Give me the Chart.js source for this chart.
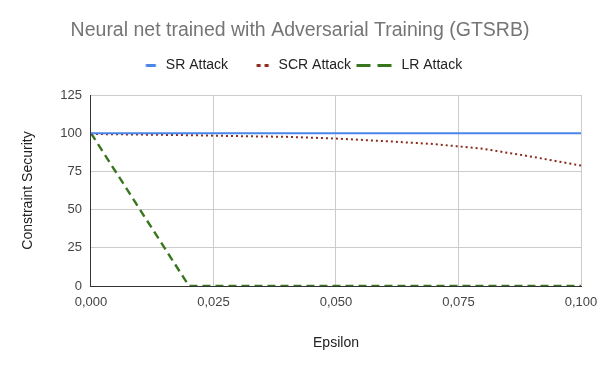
<!DOCTYPE html>
<html>
<head>
<meta charset="utf-8">
<script src="https://cdn.jsdelivr.net/npm/chart.js@4"></script>
<style>
  html, body { margin: 0; padding: 0; background: #fff; }
  #wrap { width: 600px; height: 371px; }
</style>
</head>
<body>
<div id="wrap"><canvas id="chart"></canvas></div>
<script>
// Data
const epsilon = [0, 0.01, 0.02, 0.03, 0.04, 0.05, 0.06, 0.07, 0.08, 0.09, 0.1];
const srAttack = [100, 100, 100, 100, 100, 100, 100, 100, 100, 100, 100];
const scrAttack = [99.5, 99.1, 98.7, 98.1, 97.6, 96.5, 94.8, 92.9, 89.8, 84.6, 78.8];
const lrAttack = [100, 50, 0, 0, 0, 0, 0, 0, 0, 0, 0];
const xTicks = [0, 0.025, 0.05, 0.075, 0.1];

const FONT = "'Liberation Sans', Arial, sans-serif";

const toPoints = (ys) => epsilon.map((x, i) => ({ x, y: ys[i] }));
const fmtComma = (v) => Number(v).toFixed(3).replace('.', ',');

// small legend glyphs, right-aligned inside a transparent strip
const glyph = (color, segments) => {
  const c = document.createElement('canvas');
  c.width = 72;
  c.height = 7;
  const g = c.getContext('2d');
  g.fillStyle = color;
  segments.forEach(([from, to]) => g.fillRect(from, 2, to - from, 3));
  return c;
};

const series = (label, values, color, width, dash, marks) => ({
  label,
  data: toPoints(values),
  borderColor: color,
  backgroundColor: color,
  borderWidth: width,
  borderDash: dash,
  pointRadius: 0,
  pointHoverRadius: 0,
  pointStyle: glyph(color, marks),
  tension: 0,
  fill: false,
});

new Chart(document.getElementById('chart'), {
  type: 'line',
  data: {
    datasets: [
      series('SR Attack', srAttack, '#4a86e8', 2, [], [[33.5, 43.5]]),
      series('SCR Attack', scrAttack, '#8b2a1c', 2, [2, 3], [[31.5, 35.5], [39.5, 43.5]]),
      series('LR Attack', lrAttack, '#38761d', 2.4, [8, 5], [[8.5, 22.5], [29.5, 43.5]]),
    ],
  },
  options: {
    responsive: true,
    maintainAspectRatio: false,
    animation: false,
    layout: { padding: { top: 0, left: 0, right: 0, bottom: 19.6 } },
    plugins: {
      title: {
        display: true,
        text: 'Neural net trained with Adversarial Training (GTSRB)',
        color: '#757575',
        font: { family: FONT, size: 19.5, weight: 'normal', lineHeight: '10px' },
        padding: { top: 26, bottom: 0 },
      },
      legend: {
        position: 'top',
        labels: {
          usePointStyle: true,
          pointStyleWidth: 21,
          color: '#222',
          font: { family: FONT, size: 14 },
          padding: 22.5,
        },
      },
      // empty spacer between the legend and the plot area
      subtitle: {
        display: true,
        text: '',
        weight: 500,
        font: { size: 1, lineHeight: '0px' },
        padding: { top: 12.5, bottom: 0 },
      },
      tooltip: { enabled: false },
    },
    scales: {
      x: {
        type: 'linear',
        min: 0,
        max: 0.1,
        afterBuildTicks: (axis) => { axis.ticks = xTicks.map((v) => ({ value: v })); },
        afterFit: (axis) => { axis.paddingRight = 19; },
        ticks: {
          color: '#444',
          font: { family: FONT, size: 13 },
          callback: (v) => fmtComma(v),
          maxRotation: 0,
          padding: 9,
        },
        grid: { color: '#cccccc', drawTicks: false },
        border: { color: '#333', width: 1 },
        title: {
          display: true,
          text: 'Epsilon',
          color: '#222',
          font: { family: FONT, size: 14 },
          padding: { top: 15, bottom: 0 },
        },
      },
      y: {
        min: 0,
        max: 125,
        ticks: {
          stepSize: 25,
          color: '#444',
          font: { family: FONT, size: 13 },
          padding: 9,
        },
        grid: { color: '#cccccc', drawTicks: false },
        border: { color: '#333', width: 1 },
        title: {
          display: true,
          text: 'Constraint Security',
          color: '#222',
          font: { family: FONT, size: 14 },
          padding: { top: 19.6, bottom: 14.9 },
        },
      },
    },
  },
});
</script>
</body>
</html>
